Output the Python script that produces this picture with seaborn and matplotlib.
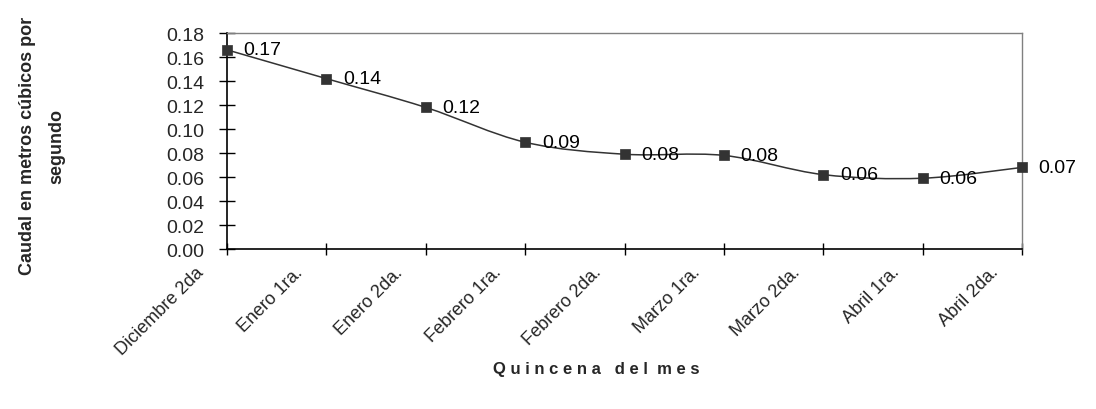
import matplotlib
matplotlib.use("Agg")
import matplotlib.pyplot as plt
import matplotlib.transforms as mtransforms
from matplotlib.path import Path
from matplotlib.patches import PathPatch
import numpy as np
import seaborn as sns
import pandas as pd

# Caudal medio por quincena (m3/s)
quincenas = ["Diciembre 2da", "Enero 1ra.", "Enero 2da.", "Febrero 1ra.", "Febrero 2da.",
             "Marzo 1ra.", "Marzo 2da.", "Abril 1ra.", "Abril 2da."]
caudal = [0.166, 0.142, 0.118, 0.089, 0.079, 0.078, 0.062, 0.059, 0.068]
y_ticks = [0.00, 0.02, 0.04, 0.06, 0.08, 0.10, 0.12, 0.14, 0.16, 0.18]

sns.set_theme(style="white")
plt.rcParams["font.family"] = ["Liberation Sans", "DejaVu Sans"]

df = pd.DataFrame({"pos": range(len(quincenas)), "caudal": caudal})

fig = plt.figure(figsize=(10.96, 4.10), dpi=100)
ax = fig.add_axes([0.2071, 0.3902, 0.7254, 0.5268])

# smoothed connecting line (cubic Bezier segments through the points)
pts = df[["pos", "caudal"]].to_numpy(dtype=float)
ext = np.vstack([pts[:1], pts, pts[-1:]])
verts = [tuple(pts[0])]
codes = [Path.MOVETO]
for i in range(len(pts) - 1):
    p0, p1, p2, p3 = ext[i], ext[i + 1], ext[i + 2], ext[i + 3]
    c1 = p1 + (p2 - p0) / 6.0
    c2 = p2 - (p3 - p1) / 6.0
    verts += [tuple(c1), tuple(c2), tuple(p2)]
    codes += [Path.CURVE4] * 3
ax.add_patch(PathPatch(Path(verts, codes), facecolor="none", edgecolor="#333333",
                       linewidth=1.1, zorder=2, clip_on=False))

sns.scatterplot(data=df, x="pos", y="caudal", ax=ax, marker="s", s=50,
                color="#333333", edgecolor="#333333", linewidth=0.5,
                clip_on=False, zorder=3, legend=False)

for x, v in zip(df["pos"], caudal):
    ax.annotate(f"{v:.2f}", (x, v), xytext=(12, 0), textcoords="offset points",
                ha="left", va="center", fontsize=14, color="black")

ax.set_xlim(0, len(quincenas) - 1)
ax.set_ylim(0, 0.18)
ax.set_yticks(y_ticks)
ax.set_yticklabels([f"{t:.2f}" for t in y_ticks], fontsize=14)
ax.set_xticks(range(len(quincenas)))
ax.set_xticklabels(quincenas, rotation=45, ha="right", va="center",
                   rotation_mode="anchor", fontsize=13)

ax.tick_params(axis="y", direction="inout", length=11, width=1, color="black", pad=11, left=True)
ax.tick_params(axis="x", direction="inout", length=9, width=1, color="black", pad=10, bottom=True)

# shift the slanted month labels slightly to the left of their ticks
shift = mtransforms.ScaledTranslation(-0.26, 0, fig.dpi_scale_trans)
for lbl in ax.get_xticklabels():
    lbl.set_transform(lbl.get_transform() + shift)

for side in ["left", "bottom"]:
    ax.spines[side].set_color("black")
    ax.spines[side].set_linewidth(1.2)
for side in ["top", "right"]:
    ax.spines[side].set_color("#808080")
    ax.spines[side].set_linewidth(1.0)

ax.set_xlabel("Q u i n c e n a   d e l  m e s", fontsize=12, fontweight="bold")
ax.xaxis.set_label_coords(0.465, -0.52)
ax.set_ylabel("Caudal en metros cúbicos por\nsegundo", fontsize=13, fontweight="bold",
              linespacing=1.95)
ax.yaxis.set_label_coords(-0.203, 0.48)

fig.savefig("out.png", dpi=100, facecolor="white")
